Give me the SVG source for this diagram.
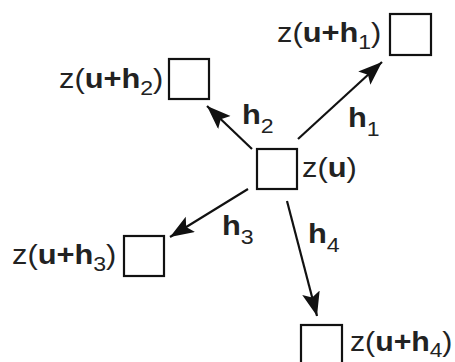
<svg xmlns="http://www.w3.org/2000/svg" width="455" height="362" viewBox="0 0 455 362">
<style>
.box{fill:#fff;stroke:#111;stroke-width:2.2}
.lbl{font-family:"Liberation Sans",Arial,sans-serif;font-size:28px;fill:#222}
.b{font-weight:bold}
.sub{font-size:21px;font-weight:normal}
.conn{stroke:#111;stroke-width:2.2;fill:none;marker-end:url(#ah)}
</style>
<defs>
<marker id="ah" markerUnits="userSpaceOnUse" markerWidth="26" markerHeight="20" refX="24" refY="9" orient="auto" viewBox="0 0 26 20">
<path d="M0,0 L24,9 L0,18 L5,9 z" fill="#111"/>
</marker>
</defs>
<g id="connectors">
<line class="conn" x1="298" y1="139" x2="382" y2="62"/>
<line class="conn" x1="252" y1="149" x2="207" y2="106"/>
<line class="conn" x1="248" y1="189" x2="170" y2="237"/>
<line class="conn" x1="287" y1="201" x2="317" y2="316"/>
</g>
<g id="node-u">
<rect class="box" x="257" y="149" width="40" height="40"/>
<text class="lbl" transform="translate(302,177) scale(1.1,1)">z(<tspan class="b">u</tspan>)</text>
</g>
<g id="node-h1">
<rect class="box" x="390" y="14" width="41" height="41"/>
<text class="lbl" transform="translate(277,42) scale(1.1,1)">z(<tspan class="b">u+h</tspan><tspan class="sub" dy="7">1</tspan><tspan dy="-7">)</tspan></text>
</g>
<g id="node-h2">
<rect class="box" x="169" y="59" width="40" height="40"/>
<text class="lbl" transform="translate(59,88) scale(1.1,1)">z(<tspan class="b">u+h</tspan><tspan class="sub" dy="7">2</tspan><tspan dy="-7">)</tspan></text>
</g>
<g id="node-h3">
<rect class="box" x="124" y="236" width="40" height="40"/>
<text class="lbl" transform="translate(12,264) scale(1.1,1)">z(<tspan class="b">u+h</tspan><tspan class="sub" dy="7">3</tspan><tspan dy="-7">)</tspan></text>
</g>
<g id="node-h4">
<rect class="box" x="301" y="325" width="41" height="41"/>
<text class="lbl" transform="translate(350,351) scale(1.08,1)">z(<tspan class="b">u+h</tspan><tspan class="sub" dy="6">4</tspan><tspan dy="-6">)</tspan></text>
</g>
<g id="edge-labels">
<text class="lbl" transform="translate(242,124) scale(1.1,1)"><tspan class="b">h</tspan><tspan class="sub" dy="9">2</tspan></text>
<text class="lbl" transform="translate(348,127) scale(1.1,1)"><tspan class="b">h</tspan><tspan class="sub" dy="9">1</tspan></text>
<text class="lbl" transform="translate(222,235) scale(1.1,1)"><tspan class="b">h</tspan><tspan class="sub" dy="9">3</tspan></text>
<text class="lbl" transform="translate(308,243) scale(1.1,1)"><tspan class="b">h</tspan><tspan class="sub" dy="9">4</tspan></text>
</g>
</svg>
